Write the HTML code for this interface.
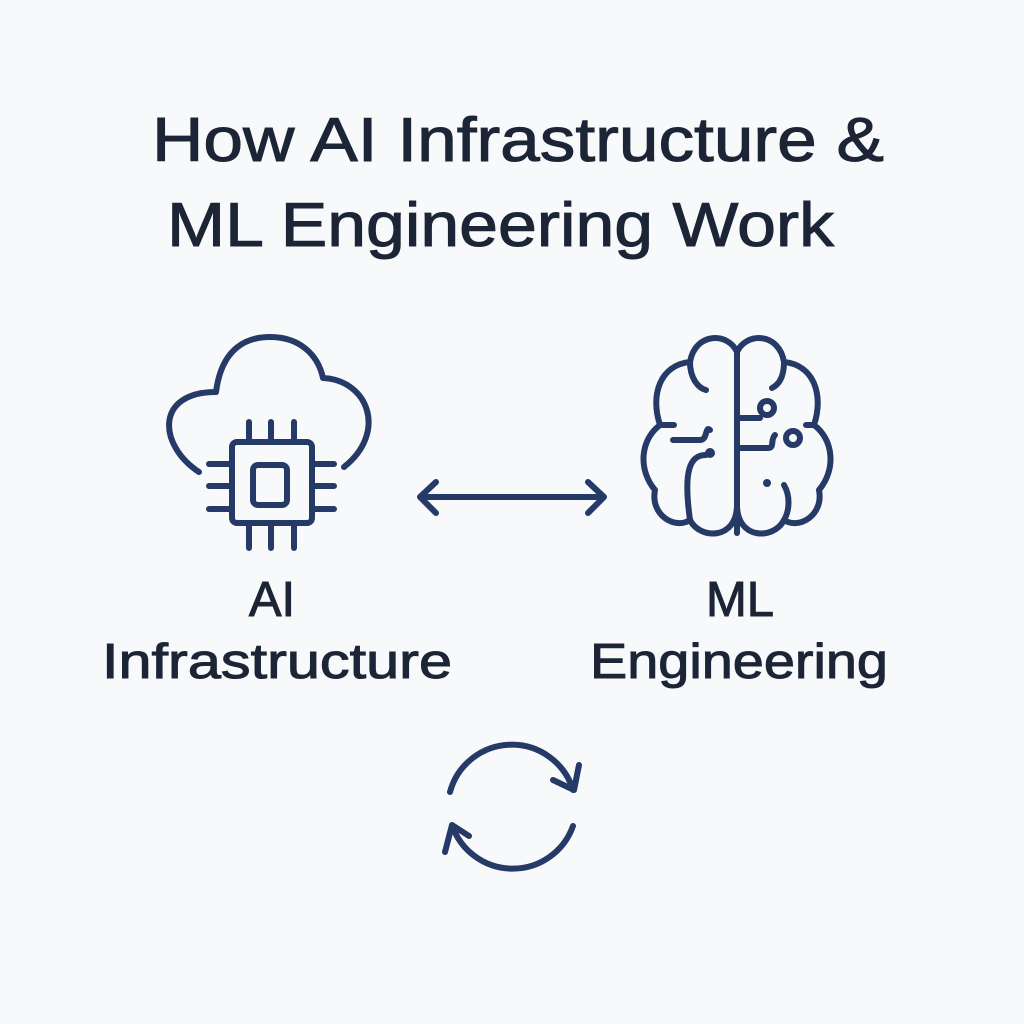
<!DOCTYPE html>
<html><head><meta charset="utf-8"><style>
html,body{margin:0;padding:0;background:#f8f9fa;}
svg{display:block}
text{font-family:"Liberation Sans",sans-serif;fill:#1c2536;stroke:#1c2536;stroke-width:1;}
</style></head><body>
<svg width="1024" height="1024" viewBox="0 0 1024 1024">
<rect width="1024" height="1024" fill="#f8f9fa"/>
<text x="152" y="161" font-size="62" textLength="732" lengthAdjust="spacingAndGlyphs">How AI Infrastructure &amp;</text>
<text x="167" y="246" font-size="62" textLength="667" lengthAdjust="spacingAndGlyphs">ML Engineering Work</text>
<text x="272" y="616" font-size="49" text-anchor="middle">AI</text>
<text x="102" y="678" font-size="49" textLength="350" lengthAdjust="spacingAndGlyphs">Infrastructure</text>
<text x="740" y="616" font-size="49" text-anchor="middle">ML</text>
<text x="590" y="678" font-size="49" textLength="298" lengthAdjust="spacingAndGlyphs">Engineering</text>
<g fill="none" stroke="#253a66" stroke-width="6" stroke-linecap="round" stroke-linejoin="round">
<path d="M199,472 C158,445 155,392 216,392 C222,345 250,337 270,337 C300,337 318,355 323,378 C368,380 388,432 344,467"/>
<rect x="232" y="442" width="80" height="81" rx="5"/>
<rect x="253" y="465" width="34" height="40" rx="5"/>
<path d="M249,422V442M271,422V442M294,422V442M249,523V548M271,523V548M294,523V548M209,464H232M209,486H232M209,509H232M312,464H334M312,486H334M312,509H334"/>
<path d="M420,497H604M436,482L420,497L436,513M588,482L604,497L588,513"/>
<path d="M737,352C728,332 695,332 690,362C660,365 650,395 660,425C640,440 638,470 655,490C650,515 675,530 690,520C700,540 737,540 737,505Z"/>
<path d="M737,352C746,332 779,332 784,362C814,365 824,395 814,425C834,440 836,470 819,490C824,515 799,530 784,520C774,540 737,540 737,505Z"/>
<path d="M737,352V533"/>
<path d="M690,362C690,378 698,388 706,390M660,425H674M673,440H700C708,440 705,425 710,430M706,455C690,455 683,470 690,520M784,362C784,378 778,385 772,388M814,425H806M738,448H768C775,448 770,440 775,435"/>
<circle cx="767" cy="408" r="7"/>
<circle cx="793" cy="438" r="7"/>
<path d="M738,418H760M784,485C790,495 790,510 784,520"/>
<path d="M450,792A64,64 0 0 1 573,790M553,780L574,790L579,765"/>
<path d="M573,826A64,64 0 0 1 452,825M469,836L452,825L445,852"/>
</g>
<g fill="#253a66"><circle cx="710" cy="453" r="5"/><circle cx="767" cy="483" r="4"/></g>
</svg>
</body></html>
